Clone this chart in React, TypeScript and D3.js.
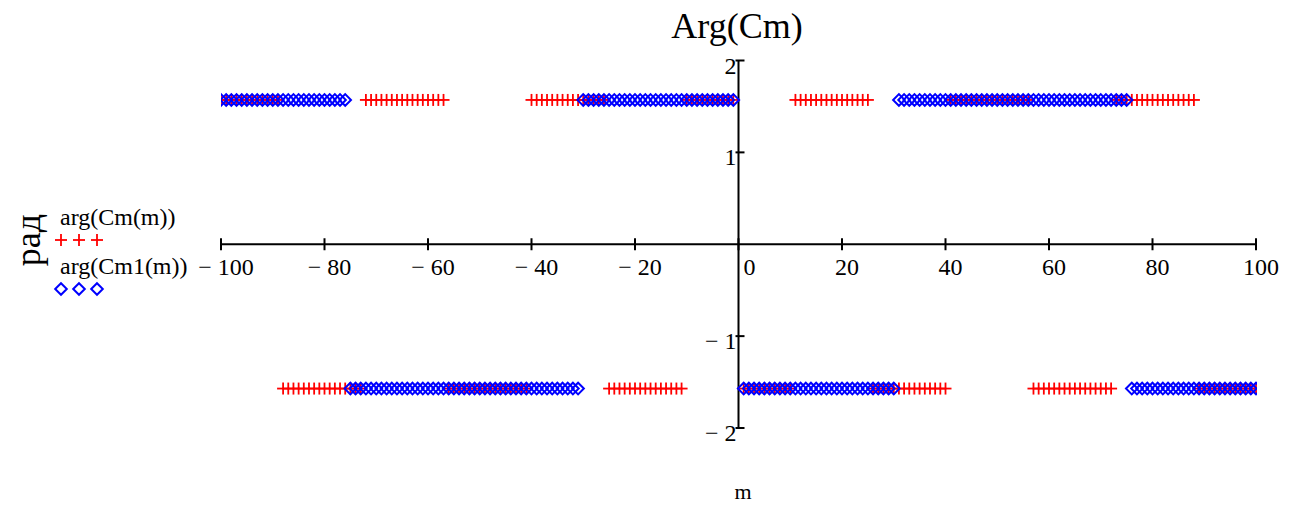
import React from "react";
import * as d3 from "d3";

// Phase values of the two transfer functions, in radians, over m = -100..100.
// Each run is [first m, last m, phase]; m = 0 has no sample.
const HALF_PI = 1.5708;

const cmRuns: [number, number, number][] = [
  [-100, -89, HALF_PI],
  [-88, -73, -HALF_PI],
  [-72, -57, HALF_PI],
  [-56, -41, -HALF_PI],
  [-40, -26, HALF_PI],
  [-25, -11, -HALF_PI],
  [-10, -1, HALF_PI],
  [1, 10, -HALF_PI],
  [11, 25, HALF_PI],
  [26, 40, -HALF_PI],
  [41, 56, HALF_PI],
  [57, 72, -HALF_PI],
  [73, 88, HALF_PI],
  [89, 100, -HALF_PI],
];

const cm1Runs: [number, number, number][] = [
  [-100, -76, HALF_PI],
  [-75, -31, -HALF_PI],
  [-30, -1, HALF_PI],
  [1, 30, -HALF_PI],
  [31, 75, HALF_PI],
  [76, 100, -HALF_PI],
];

const xTicks = [-100, -80, -60, -40, -20, 0, 20, 40, 60, 80, 100];
const yTicks = [-2, -1, 1, 2];

const title = "Arg(Cm)";
const xTitle = "m";
const yTitle = "рад";
const legendLabels = ["arg(Cm(m))", "arg(Cm1(m))"];

function expand(runs: [number, number, number][]) {
  const pts: { m: number; v: number }[] = [];
  runs.forEach(([a, b, v]) => {
    d3.range(a, b + 1).forEach((m) => pts.push({ m, v }));
  });
  return pts;
}

const fmt = (v: number) => (v < 0 ? `\u2212 ${Math.abs(v)}` : `${v}`);

const FONT = "'Liberation Serif', 'Times New Roman', serif";
const RED = "#ff0000";
const BLUE = "#0000ff";

function Cross({ x, y, r = 6 }: { x: number; y: number; r?: number }) {
  return (
    <g stroke={RED} strokeWidth={1.8}>
      <line x1={x - r} x2={x + r} y1={y} y2={y} />
      <line x1={x} x2={x} y1={y - r} y2={y + r} />
    </g>
  );
}

function Diamond({ x, y, r = 5.8 }: { x: number; y: number; r?: number }) {
  return (
    <path
      d={`M${x - r},${y}L${x},${y - r}L${x + r},${y}L${x},${y + r}Z`}
      fill="none"
      stroke={BLUE}
      strokeWidth={2}
    />
  );
}

export default function App() {
  const W = 1291;
  const H = 508;
  const x = d3.scaleLinear().domain([-100, 100]).range([221, 1256]);
  const y = d3.scaleLinear().domain([-2, 2]).range([428, 60.5]);

  const cm = expand(cmRuns);
  const cm1 = expand(cm1Runs);
  const x0 = x(0);
  const y0 = y(0);
  const [xl, xr] = x.range();

  return (
    <svg
      width={W}
      height={H}
      style={{ position: "absolute", left: 0, top: 0, background: "#fff" }}
      fontFamily={FONT}
    >
      <defs>
        <clipPath id="plot-area">
          <rect x={xl} y={0} width={xr - xl + 1} height={H} />
        </clipPath>
      </defs>

      {/* title */}
      <text x={737} y={38} textAnchor="middle" fontSize={36}>
        {title}
      </text>

      {/* axes through the origin */}
      <g stroke="#000" strokeWidth={2}>
        <line x1={xl} x2={xr} y1={y0} y2={y0} />
        <line x1={x0} x2={x0} y1={y(2)} y2={y(-2)} />
        {xTicks.map((t) => (
          <line key={t} x1={x(t)} x2={x(t)} y1={y0 - 6} y2={y0 + 6} />
        ))}
        {yTicks.map((t) => (
          <line key={t} x1={x0 - 3} x2={x0 + 6} y1={y(t)} y2={y(t)} />
        ))}
      </g>

      {/* tick labels */}
      <g fontSize={24} fill="#000">
        {xTicks.map((t) => (
          <text
            key={t}
            x={x(t) + (t === 0 ? 11 : 5)}
            y={y0 + 31}
            textAnchor="middle"
          >
            {fmt(t)}
          </text>
        ))}
        {yTicks.map((t) => (
          <text key={t} x={x0 - 2} y={y(t) + 13} textAnchor="end">
            {fmt(t)}
          </text>
        ))}
      </g>

      {/* data: crosses first, hollow diamonds on top, clipped to the m range */}
      <g clipPath="url(#plot-area)">
        {cm.map((d) => (
          <Cross key={`c${d.m}`} x={x(d.m)} y={y(d.v)} />
        ))}
        {cm1.map((d) => (
          <Diamond key={`d${d.m}`} x={x(d.m)} y={y(d.v)} />
        ))}
      </g>

      {/* axis titles */}
      <text x={743} y={499} textAnchor="middle" fontSize={22}>
        {xTitle}
      </text>
      <text
        transform="translate(40,240) rotate(-90)"
        textAnchor="middle"
        fontSize={36}
      >
        {yTitle}
      </text>

      {/* legend */}
      <g fontSize={24}>
        <text x={60} y={225}>
          {legendLabels[0]}
        </text>
        {[61, 79, 97].map((lx) => (
          <Cross key={`lc${lx}`} x={lx} y={240} />
        ))}
        <text x={60} y={274}>
          {legendLabels[1]}
        </text>
        {[61, 79, 97].map((lx) => (
          <Diamond key={`ld${lx}`} x={lx} y={289} />
        ))}
      </g>
    </svg>
  );
}
